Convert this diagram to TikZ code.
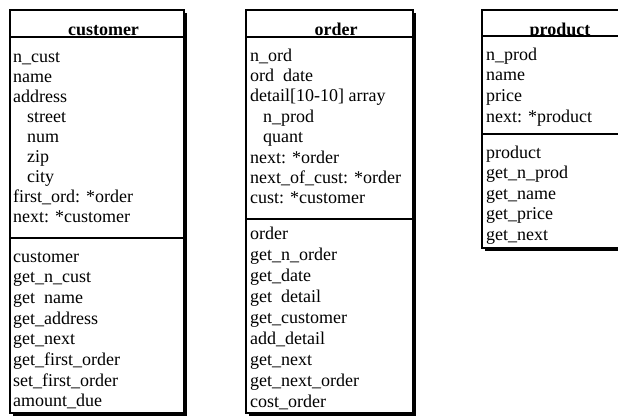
\documentclass[tikz,border=0pt]{standalone}
\usepackage{fontspec}
\setmainfont{Liberation Serif}
\begin{document}
\begin{tikzpicture}[x=1pt,y=-1pt,
  txt/.style={anchor=base west, inner sep=0pt, font=\fontsize{18}{20}\selectfont},
  ttl/.style={anchor=base, inner sep=0pt, font=\fontsize{18}{20}\selectfont\bfseries},
  boxline/.style={line width=1.2pt},
  shade/.style={fill=black}]
\useasboundingbox (0,0) rectangle (618,416);
\clip (0,0) rectangle (618,416);

% ---------- customer ----------
\fill[shade] (13,13) rectangle (187,416);
\draw[boxline,fill=white] (10,10) rectangle (184,413);
\node[ttl] (ctitle) at (103.5,35.5) {customer};
\draw[boxline] (10,37) -- (184,37);
\draw[boxline] (10,238) -- (184,238);
\foreach \t [count=\i from 0] in {n\_cust,name,address,\hspace{14pt}street,\hspace{14pt}num,\hspace{14pt}zip,\hspace{14pt}city,first\_ord: *order,next: *customer}
  \node[txt] (ca\i) at (13,62+20.1*\i) {\t};
\foreach \t [count=\i from 0] in {customer,get\_n\_cust,get\ \ name,get\_address,get\_next,get\_first\_order,set\_first\_order,amount\_due}
  \node[txt] (cm\i) at (13,262+20.7*\i) {\t};

% ---------- order ----------
\fill[shade] (249,13) rectangle (416,416);
\draw[boxline,fill=white] (246,10) rectangle (413,413);
\node[ttl] (otitle) at (336,35.5) {order};
\draw[boxline] (246,37) -- (413,37);
\draw[boxline] (246,219) -- (413,219);
\foreach \t [count=\i from 0] in {n\_ord,ord\ \ date,{detail[10-10] array},\hspace{13pt}n\_prod,\hspace{13pt}quant,next: *order,next\_of\_cust: *order,cust: *customer}
  \node[txt] (oa\i) at (250,61+20.4*\i) {\t};
\foreach \t [count=\i from 0] in {order,get\_n\_order,get\_date,get\ \ detail,get\_customer,add\_detail,get\_next,get\_next\_order,cost\_order}
  \node[txt] (om\i) at (250,239+21.1*\i) {\t};

% ---------- product ----------
\fill[shade] (485,13) rectangle (630,251);
\draw[boxline,fill=white] (482,10) rectangle (625,248);
\node[ttl] (ptitle) at (560,35.5) {product};
\fill[white] (483,36.5) rectangle (624,42);
\draw[boxline] (482,36) -- (625,36);
\draw[boxline] (482,134) -- (625,134);
\foreach \t [count=\i from 0] in {n\_prod,name,price,next: *product}
  \node[txt] (pa\i) at (486,60+20.7*\i) {\t};
\foreach \t [count=\i from 0] in {product,get\_n\_prod,get\_name,get\_price,get\_next}
  \node[txt] (pm\i) at (486,158+20.5*\i) {\t};
\end{tikzpicture}
\end{document}
